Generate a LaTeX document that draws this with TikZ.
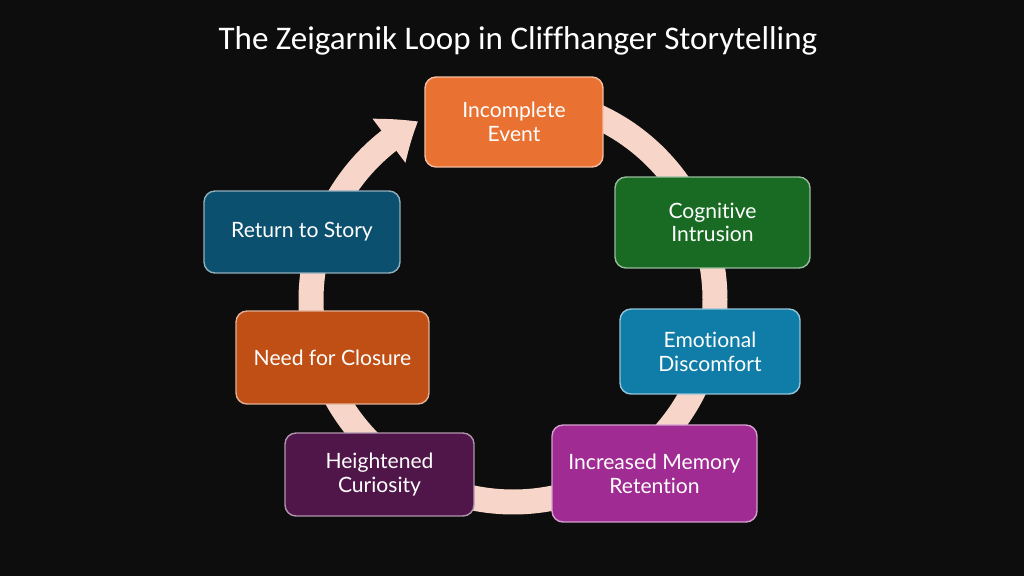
\documentclass[tikz,border=0pt]{standalone}
\usepackage{fontspec}
\setmainfont{Lato}[Ligatures=NoCommon]
\newfontfamily\titlefont{Carlito}[Ligatures=NoCommon]
\usepackage{xcolor}
\definecolor{bg_zg}{RGB}{13,13,13}
\definecolor{ring_zg}{RGB}{247,213,201}
\definecolor{orange_zg}{RGB}{233,113,50}
\definecolor{green_zg}{RGB}{25,107,36}
\definecolor{blue_zg}{RGB}{15,125,168}
\definecolor{purple_zg}{RGB}{160,43,147}
\definecolor{plum_zg}{RGB}{80,22,74}
\definecolor{rust_zg}{RGB}{192,79,21}
\definecolor{teal_zg}{RGB}{12,80,111}
\usepackage{tikz}
\usetikzlibrary{arrows.meta,bending}

\begin{document}
\begin{tikzpicture}
[	x=0.02cm, y=0.02cm,
	stagebox/.style = {rectangle, rounded corners=0.22cm, draw=#1!45!white, line width=0.8pt, fill=#1, text=white, align=center, font=\fontsize{12}{13.5}\selectfont, inner sep=0pt},
	loop arrow/.style = {draw=ring_zg, line width=0.5cm, -{Triangle[width=1.05cm,length=0.7cm,bend]}}
]
\fill[bg_zg] (0,0) rectangle (1024,576);
\useasboundingbox (0,0) rectangle (1024,576);

\node[text=white, font=\titlefont\fontsize{18.8}{22}\selectfont] (title) at (518,535) {The Zeigarnik Loop in Cliffhanger Storytelling};

% the loop behind the stages
\coordinate (hub) at (513,276);
\draw[loop arrow] ([shift={(80:4.04cm)}]hub) arc[start angle=80, end angle=-242, radius=4.04cm];

\node[stagebox=orange_zg, minimum width=3.56cm, minimum height=1.8cm] (incomplete) at (514,454) {Incomplete\\Event};
\node[stagebox=green_zg, minimum width=3.9cm, minimum height=1.82cm] (intrusion) at (712.5,353.5) {Cognitive\\Intrusion};
\node[stagebox=blue_zg, minimum width=3.6cm, minimum height=1.7cm] (discomfort) at (710,224.5) {Emotional\\Discomfort};
\node[stagebox=purple_zg, minimum width=4.1cm, minimum height=1.94cm] (retention) at (654.5,102.5) {Increased Memory\\Retention};
\node[stagebox=plum_zg, minimum width=3.78cm, minimum height=1.66cm] (curiosity) at (379.5,101.5) {Heightened\\Curiosity};
\node[stagebox=rust_zg, minimum width=3.86cm, minimum height=1.86cm] (closure) at (332.5,218.5) {Need for Closure};
\node[stagebox=teal_zg, minimum width=3.92cm, minimum height=1.64cm] (return) at (302,344) {Return to Story};

\end{tikzpicture}
\end{document}
